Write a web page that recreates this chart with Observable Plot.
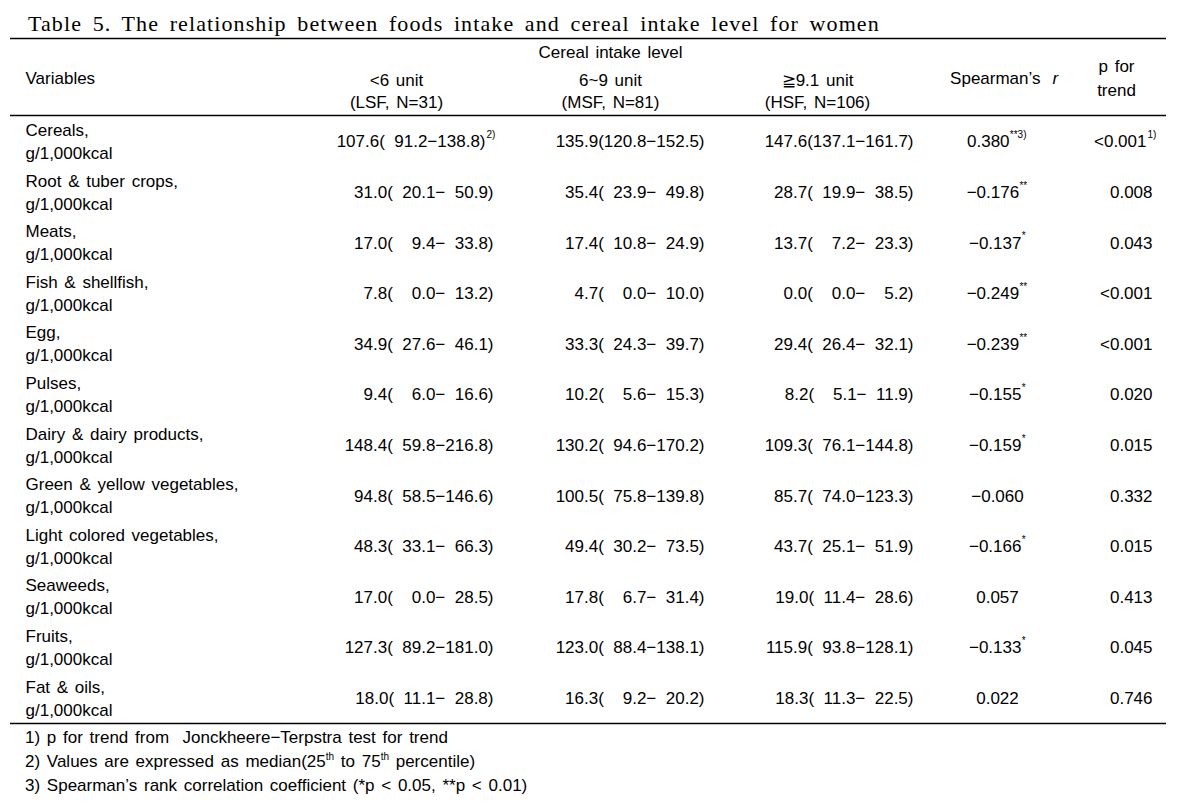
<!DOCTYPE html>
<html><head><meta charset="utf-8">
<script src="https://cdn.jsdelivr.net/npm/d3@7"></script>
<script src="https://cdn.jsdelivr.net/npm/@observablehq/plot@0.6"></script>
<style>
body{margin:0;background:#fff;}
#title{height:36px;box-sizing:border-box;padding:11px 0 0 28px;font-family:"Liberation Serif","DejaVu Serif",serif;font-size:22px;line-height:26px;letter-spacing:1.1px;word-spacing:4px;white-space:nowrap;color:#000}
#notes{padding-left:25px;font-family:"Liberation Sans",Arial,sans-serif;font-size:17px;line-height:24px;word-spacing:2px;color:#000}
#notes div{white-space:pre;height:24px}
#notes sup{font-size:10px;position:relative;top:-7px;vertical-align:baseline;line-height:0}
svg text{white-space:pre}
g[aria-label="values"] text{letter-spacing:-0.35px}
</style>
</head><body>
<div id="title"></div>
<div id="chart"></div>
<div id="notes"></div>
<script>
// ---------- data ----------
const titleText = "Table 5. The relationship between foods intake and cereal intake level for women";
const groupHeader = "Cereal intake level";
const varHeader = "Variables";
const levelLabels = ["<6 unit", "6~9 unit", "\u22679.1 unit"];
const levelGroups = ["(LSF, N=31)", "(MSF, N=81)", "(HSF, N=106)"];
const spearmanHeader = "Spearman\u2019s";
const spearmanSymbol = "r";
const trendHeader = ["p for", "trend"];
const unitLabel = "g/1,000kcal";
const foods = ["Cereals", "Root & tuber crops", "Meats", "Fish & shellfish", "Egg", "Pulses",
  "Dairy & dairy products", "Green & yellow vegetables", "Light colored vegetables", "Seaweeds", "Fruits", "Fat & oils"];
// median, 25th, 75th percentile
const lsf = [[107.6,91.2,138.8],[31.0,20.1,50.9],[17.0,9.4,33.8],[7.8,0.0,13.2],[34.9,27.6,46.1],[9.4,6.0,16.6],
  [148.4,59.8,216.8],[94.8,58.5,146.6],[48.3,33.1,66.3],[17.0,0.0,28.5],[127.3,89.2,181.0],[18.0,11.1,28.8]];
const msf = [[135.9,120.8,152.5],[35.4,23.9,49.8],[17.4,10.8,24.9],[4.7,0.0,10.0],[33.3,24.3,39.7],[10.2,5.6,15.3],
  [130.2,94.6,170.2],[100.5,75.8,139.8],[49.4,30.2,73.5],[17.8,6.7,31.4],[123.0,88.4,138.1],[16.3,9.2,20.2]];
const hsf = [[147.6,137.1,161.7],[28.7,19.9,38.5],[13.7,7.2,23.3],[0.0,0.0,5.2],[29.4,26.4,32.1],[8.2,5.1,11.9],
  [109.3,76.1,144.8],[85.7,74.0,123.3],[43.7,25.1,51.9],[19.0,11.4,28.6],[115.9,93.8,128.1],[18.3,11.3,22.5]];
const spearman = [0.380,-0.176,-0.137,-0.249,-0.239,-0.155,-0.159,-0.060,-0.166,0.057,-0.133,0.022];
const stars = ["**","**","*","**","**","*","*","","*","","*",""];
const pTrend = ["<0.001","0.008","0.043","<0.001","<0.001","0.020","0.015","0.332","0.015","0.413","0.045","0.746"];
const lsfNotes = ["2)","","","","","","","","","","",""];
const spearmanNotes = ["3)","","","","","","","","","","",""];
const pNotes = ["1)","","","","","","","","","","",""];
const footnotes = [
  "1) p for trend from  Jonckheere\u2212Terpstra test for trend",
  "2) Values are expressed as median(25<sup>th</sup> to 75<sup>th</sup> percentile)",
  "3) Spearman\u2019s rank correlation coefficient (*p &lt; 0.05, **p &lt; 0.01)"
];

// ---------- layout (page pixels) ----------
const Y0 = 36;              // top of svg on page
const L = {
  ruleX1: 10, ruleX2: 1166, rules: [38, 115, 723],
  colVar: 25, colLSF: 493, colMSF: 704, colHSF: 913, colR: 997, colP: 1152,
  levelX: [396, 610, 817], groupY: 52, levelY: 80, nY: 102,
  varY: 78, spearY: 78, spearEnd: 1040, spearSym: 1052,
  pX: 1116, pY: [66, 90],
  row0: 141.5, pitch: 50.6, lineOff: 11.5, supRaise: 7, noteShift: 8
};
const rowY = i => L.row0 + i * L.pitch - Y0;
const FS = "\u2007";
const cell = ([m, lo, hi]) => m.toFixed(1) + "(" + lo.toFixed(1).padStart(5, FS) + "\u2212" + hi.toFixed(1).padStart(5, FS) + ")";
const fmtR = r => (r < 0 ? "\u2212" : "") + Math.abs(r).toFixed(3);
const idx = foods.map((d, i) => i);

document.getElementById("title").textContent = titleText;
document.getElementById("notes").innerHTML = footnotes.map(f => "<div>" + f + "</div>").join("");

const headers = [
  {t: groupHeader, x: L.levelX[1], y: L.groupY - Y0, a: "middle"},
  {t: varHeader, x: L.colVar, y: L.varY - Y0, a: "start"},
  ...levelLabels.map((t, k) => ({t, x: L.levelX[k], y: L.levelY - Y0, a: "middle"})),
  ...levelGroups.map((t, k) => ({t, x: L.levelX[k], y: L.nY - Y0, a: "middle"})),
  {t: spearmanHeader, x: L.spearEnd, y: L.spearY - Y0, a: "end"},
  ...trendHeader.map((t, k) => ({t, x: L.pX, y: L.pY[k] - Y0, a: "middle"}))
];

const supW = s => s.length * 4.6;
const valueCol = (arr, col, notes) =>
  Plot.text(idx, {x: i => col - (notes && notes[i] ? L.noteShift : 0), y: rowY, text: i => cell(arr[i]), textAnchor: "end", ariaLabel: "values"});

const chart = Plot.plot({
  width: 1191, height: 726 - Y0,
  margin: 0,
  x: {type: "identity", axis: null},
  y: {type: "identity", axis: null},
  style: {fontFamily: "'Liberation Sans', Arial, sans-serif", fontSize: "17px", color: "#000", background: "#fff", wordSpacing: "2px"},
  marks: [
    Plot.ruleY(L.rules.map(r => r - Y0), {x1: L.ruleX1, x2: L.ruleX2, stroke: "#000", strokeWidth: 1.6}),
    ...["middle", "start", "end"].map(a =>
      Plot.text(headers.filter(d => d.a === a), {x: "x", y: "y", text: "t", textAnchor: a})),
    Plot.text([spearmanSymbol], {x: L.spearSym, y: L.spearY - Y0, text: d => d, textAnchor: "start", fontStyle: "italic"}),
    Plot.text(idx, {x: L.colVar, y: i => rowY(i) - L.lineOff, text: i => foods[i] + ",", textAnchor: "start"}),
    Plot.text(idx, {x: L.colVar, y: i => rowY(i) + L.lineOff, text: () => unitLabel, textAnchor: "start"}),
    valueCol(lsf, L.colLSF, lsfNotes),
    valueCol(msf, L.colMSF, null),
    valueCol(hsf, L.colHSF, null),
    Plot.text(idx.filter(i => lsfNotes[i]), {x: L.colLSF - L.noteShift + 1, y: i => rowY(i) - L.supRaise, text: i => lsfNotes[i], textAnchor: "start", fontSize: 10}),
    // Spearman r, centered together with its superscript
    Plot.text(idx, {x: i => L.colR - supW(stars[i] + spearmanNotes[i]) / 2, y: rowY, text: i => fmtR(spearman[i]), textAnchor: "middle"}),
    Plot.text(idx.filter(i => stars[i] + spearmanNotes[i]), {x: i => L.colR - supW(stars[i] + spearmanNotes[i]) / 2 + (spearman[i] < 0 ? 26.5 : 21.5), y: i => rowY(i) - L.supRaise, text: i => stars[i] + spearmanNotes[i], textAnchor: "start", fontSize: 10}),
    // p for trend
    Plot.text(idx, {x: i => L.colP - (pNotes[i] ? L.noteShift - 2 : 0), y: rowY, text: i => pTrend[i], textAnchor: "end"}),
    Plot.text(idx.filter(i => pNotes[i]), {x: L.colP - L.noteShift + 3, y: i => rowY(i) - L.supRaise, text: i => pNotes[i], textAnchor: "start", fontSize: 10})
  ]
});
document.getElementById("chart").appendChild(chart);
</script></body></html>
